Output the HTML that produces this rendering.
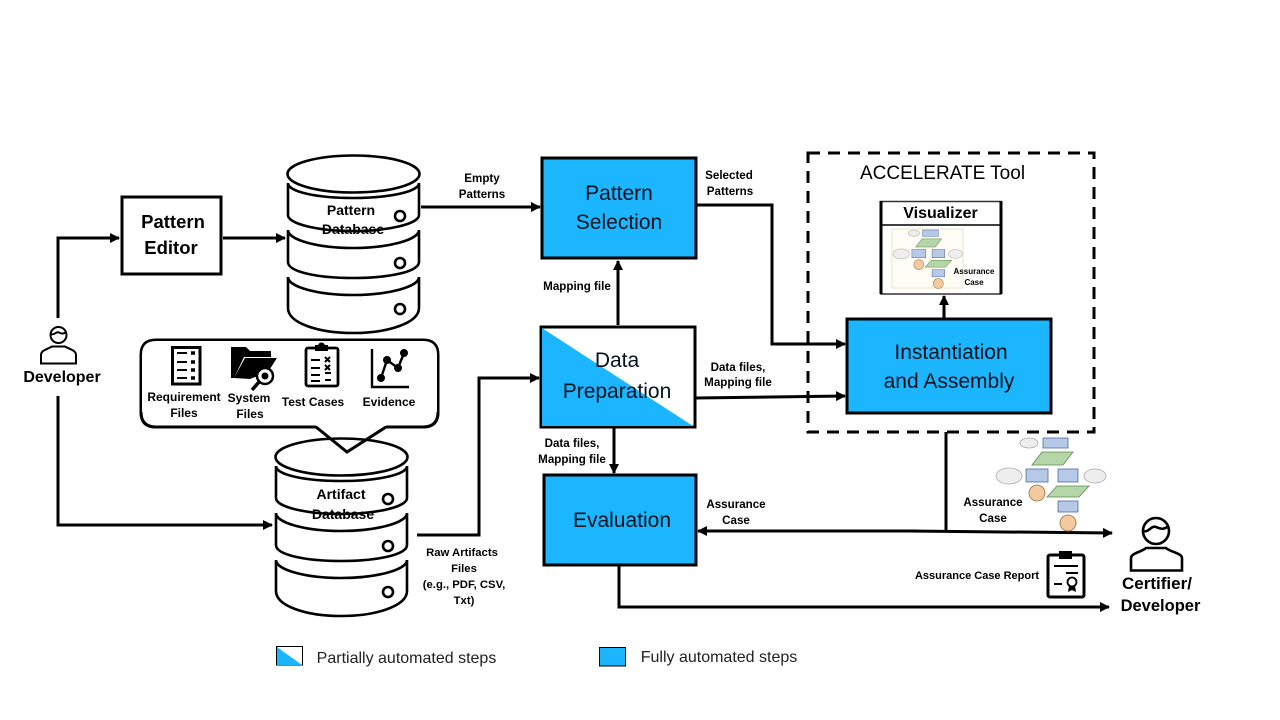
<!DOCTYPE html>
<html><head><meta charset="utf-8"><style>
html,body{margin:0;padding:0;background:#fff}
svg{display:block}
text{font-family:"Liberation Sans",sans-serif;fill:#000;text-anchor:middle}
.b{font-weight:bold;font-size:11.6px}
.m{font-size:21px;fill:#04121c}
.h{font-weight:bold;font-size:18.500px}
.l{fill:none;stroke:#000;stroke-width:3}
</style></head><body>
<svg width="1280" height="720" viewBox="0 0 1280 720" xmlns="http://www.w3.org/2000/svg">
<defs>
<marker id="a" markerUnits="userSpaceOnUse" markerWidth="10" markerHeight="10" refX="9" refY="5" orient="auto"><path d="M0 0L10 5L0 10z" fill="#000"/></marker>
<g id="cyl" fill="#fff" stroke="#000" stroke-width="2.6">
<path d="M288 277V308C288 323 318 333 353 333S419 323 419 308V277C419 287 388 295 353 295S288 287 288 277z"/>
<path d="M288 230V262C288 272 318 278 353 278S419 272 419 262V230C419 240 388 248 353 248S288 240 288 230z"/>
<path d="M288 183V215C288 224 318 231 353 231S419 224 419 215V183C419 192 388 198 353 198S288 192 288 183z"/>
<ellipse cx="353.500" cy="174" rx="66" ry="18.500"/>
<circle cx="400" cy="216" r="5"/><circle cx="400" cy="263" r="5"/><circle cx="400" cy="309" r="5"/>
</g>
<g id="mini" stroke-width=".8">
<ellipse cx="33" cy="5" rx="9" ry="5" fill="#eee" stroke="#aaa"/>
<rect x="47" y="0" width="25" height="10" fill="#b6c9e6" stroke="#4a6fa5"/>
<path d="M36 27L46 14H77L67 27z" fill="#b5d6a8" stroke="#5a8a50"/>
<ellipse cx="13" cy="38" rx="13" ry="8" fill="#eee" stroke="#aaa"/>
<rect x="30" y="31" width="22" height="13" fill="#b6c9e6" stroke="#4a6fa5"/>
<rect x="62" y="31" width="20" height="13" fill="#b6c9e6" stroke="#4a6fa5"/>
<ellipse cx="99" cy="38" rx="11" ry="7" fill="#eee" stroke="#aaa"/>
<circle cx="41" cy="55" r="8" fill="#f3c9a0" stroke="#a07040"/>
<path d="M51 59L61 48H93L83 59z" fill="#b5d6a8" stroke="#5a8a50"/>
<rect x="62" y="63" width="20" height="11" fill="#b6c9e6" stroke="#4a6fa5"/>
<circle cx="72" cy="85" r="8" fill="#f3c9a0" stroke="#a07040"/>
</g>
</defs>

<!-- cylinders -->
<use href="#cyl"/>
<text x="351" y="215" style="font-size:14px;font-weight:bold">Pattern</text>
<text x="353" y="234" style="font-size:14px;font-weight:bold">Database</text>
<use href="#cyl" x="-12" y="283"/>
<text x="341" y="499" style="font-size:14px;font-weight:bold">Artifact</text>
<text x="343" y="519" style="font-size:14px;font-weight:bold">Database</text>

<!-- bubble -->
<path d="M156 340H423Q438 340 438 355V412Q438 427 423 427H386L347 452L316 427H156Q141 427 141 412V355Q141 340 156 340z" fill="none" stroke="#000" stroke-width="3"/>
<path d="M156 341H423Q437 341 437 355V412Q437 426 423 426H156Q142 426 142 412V355Q142 341 156 341z" fill="#fff"/>
<path d="M141 412Q141 427 156 427H316M386 427H423Q438 427 438 412" fill="none" stroke="#000" stroke-width="3"/>

<!-- bubble icons -->
<g fill="none" stroke="#000" stroke-width="3">
<rect x="172.500" y="347.500" width="27.500" height="36.500"/>
<path d="M177 353H187M177 362H187M177 370H187M177 378H187" stroke-width="2"/>
<path d="M191 353h4M191 362h4M191 370h4M191 378h4" stroke-width="3.500"/>
</g>
<path d="M231 347H246L250 351H271V357H244L234 378H231z" fill="#000"/>
<path d="M234 378L245 358H277L268 372 250 379z" fill="#000"/>
<circle cx="265" cy="376" r="8" fill="#fff" stroke="#000" stroke-width="2.500"/>
<circle cx="265" cy="376" r="3.500" fill="#000"/>
<path d="M259 382L252 390" stroke="#000" stroke-width="3.500"/>
<g fill="none" stroke="#000" stroke-width="2.800">
<rect x="306" y="348" width="32" height="38" rx="2"/>
<path d="M311 360H320M311 368H320M311 375H320M311 381H320" stroke-width="2"/>
<path d="M325 357l5 5M330 357l-5 5M325 365l5 5M330 365l-5 5M325 373h6M325 380h6" stroke-width="2"/>
</g>
<rect x="315" y="345" width="13" height="6" fill="#000"/>
<circle cx="321.500" cy="346" r="3.500" fill="#000"/>
<g stroke="#000" fill="#000">
<path d="M372 349V387H409" fill="none" stroke-width="2.400"/>
<path d="M381 378L387 360L398 368L404 353" fill="none" stroke-width="2.400"/>
<circle cx="381" cy="378" r="3.500"/><circle cx="387" cy="360" r="3.500"/><circle cx="398" cy="368" r="3.500"/><circle cx="404" cy="353" r="3.500"/>
</g>
<text x="184" y="401" style="font-size:12px;font-weight:bold">Requirement</text>
<text x="184" y="417" style="font-size:12px;font-weight:bold">Files</text>
<text x="249" y="402" style="font-size:12px;font-weight:bold">System</text>
<text x="250" y="418" style="font-size:12px;font-weight:bold">Files</text>
<text x="313" y="406" style="font-size:12px;font-weight:bold">Test Cases</text>
<text x="389" y="406" style="font-size:12px;font-weight:bold">Evidence</text>

<!-- connectors -->
<path class="l" d="M58 318V238H119" marker-end="url(#a)"/>
<path class="l" d="M223 238H285" marker-end="url(#a)"/>
<path class="l" d="M58 396V525H272" marker-end="url(#a)"/>
<path class="l" d="M421 207H540" marker-end="url(#a)"/>
<path class="l" d="M417 535H479V378H539" marker-end="url(#a)"/>
<path class="l" d="M618 325V261" marker-end="url(#a)"/>
<path class="l" d="M697 205H772V344H845" marker-end="url(#a)"/>
<path class="l" d="M696 398L845 396" marker-end="url(#a)"/>
<path class="l" d="M614 428V473" marker-end="url(#a)"/>
<path class="l" d="M944 318V296" marker-end="url(#a)"/>
<path class="l" d="M946 432V531"/>
<path class="l" d="M908 531L1112 533" marker-end="url(#a)"/>
<path class="l" d="M917 531L698 531" marker-end="url(#a)"/>
<path class="l" d="M619 566V607H1109" marker-end="url(#a)"/>

<!-- dashed container -->
<rect x="808" y="153" width="286" height="279" fill="none" stroke="#000" stroke-width="3" stroke-dasharray="12 8"/>
<text x="942.500" y="179" style="font-size:19px">ACCELERATE Tool</text>

<!-- boxes -->
<rect x="122" y="197" width="99" height="77" fill="#fff" stroke="#000" stroke-width="3"/>
<text x="173" y="228" class="h">Pattern</text>
<text x="171" y="254" class="h">Editor</text>
<rect x="542" y="158" width="154" height="100" fill="#1cb5ff" stroke="#000" stroke-width="3"/>
<text x="619" y="200" class="m">Pattern</text>
<text x="619" y="229" class="m">Selection</text>
<rect x="541" y="327" width="154" height="100" fill="#fff" stroke="#000" stroke-width="3"/>
<path d="M542 328L693 426H542z" fill="#1cb5ff"/>
<text x="617" y="367" class="m">Data</text>
<text x="617" y="398" class="m">Preparation</text>
<rect x="544" y="475" width="152" height="90" fill="#1cb5ff" stroke="#000" stroke-width="3"/>
<text x="622" y="527" class="m">Evaluation</text>
<rect x="847" y="319" width="204" height="94" fill="#1cb5ff" stroke="#000" stroke-width="3"/>
<text x="951" y="359" class="m">Instantiation</text>
<text x="949" y="388" class="m">and Assembly</text>

<!-- visualizer -->
<rect x="881" y="201.500" width="120" height="92.500" fill="#fff" stroke="#333" stroke-width="1.500"/>
<path d="M881 201V294M1001 201V294" stroke="#000" stroke-width="3"/>
<path d="M881 225H1001" stroke="#000" stroke-width="1.500"/>
<text x="940.500" y="218" style="font-size:16px;font-weight:bold">Visualizer</text>
<rect x="892" y="229" width="71" height="59" fill="#fffdf6" stroke="#eee3c8"/>
<g transform="translate(893 230) scale(.63)"><use href="#mini"/></g>
<text x="974" y="274" style="font-size:8px;font-weight:bold">Assurance</text>
<text x="974" y="285" style="font-size:8px;font-weight:bold">Case</text>

<!-- mini diagram right -->
<use href="#mini" x="996" y="438"/>

<!-- labels -->
<text x="482" y="182" class="b">Empty</text>
<text x="482" y="198" class="b">Patterns</text>
<text x="729" y="179" class="b">Selected</text>
<text x="730" y="195" class="b">Patterns</text>
<text x="577" y="290" class="b">Mapping file</text>
<text x="738" y="371" class="b">Data files,</text>
<text x="738" y="386" class="b">Mapping file</text>
<text x="572" y="447" class="b">Data files,</text>
<text x="572" y="463" class="b">Mapping file</text>
<text x="736" y="508" class="b">Assurance</text>
<text x="736" y="524" class="b">Case</text>
<text x="993" y="506" class="b">Assurance</text>
<text x="993" y="522" class="b">Case</text>
<text x="462" y="556" class="b" style="font-size:11.3px">Raw Artifacts</text>
<text x="464" y="572" class="b" style="font-size:11.3px">Files</text>
<text x="464" y="588" class="b" style="font-size:11.3px">(e.g., PDF, CSV,</text>
<text x="464" y="604" class="b" style="font-size:11.3px">Txt)</text>
<text x="977" y="579" class="b" style="font-size:11px">Assurance Case Report</text>

<!-- people -->
<g fill="none" stroke="#000" stroke-width="2">
<circle cx="58.500" cy="335" r="8"/>
<path d="M50.500 334C54 336 56 331 59 332.500S63 334 66.500 332"/>
<path d="M41 363.500V355C41 350 48 349 52 346.500H65C69 349 76 350 76 355V363.500z"/>
</g>
<text x="62" y="382" style="font-size:16px;font-weight:bold">Developer</text>
<g fill="none" stroke="#000" stroke-width="2.600">
<circle cx="1156" cy="531" r="13"/>
<path d="M1143 531C1149 533 1151 525 1156 527S1163 530 1169 526"/>
<path d="M1131 570.500V558C1131 553 1142 552 1146 548H1166C1170 552 1182 553 1182 558V570.500z"/>
</g>
<text x="1157" y="589" style="font-size:17px;font-weight:bold">Certifier/</text>
<text x="1160.500" y="611" style="font-size:16.500px;font-weight:bold">Developer</text>

<!-- report icon -->
<rect x="1048" y="555" width="36" height="42" rx="2" fill="#fff" stroke="#000" stroke-width="3"/>
<rect x="1059" y="551" width="13" height="8" fill="#000"/>
<path d="M1054 566H1078M1066 573H1078M1054 584H1062" stroke="#000" stroke-width="2"/>
<circle cx="1072" cy="582" r="4.500" fill="none" stroke="#000" stroke-width="1.800"/>
<path d="M1069 586l-1 6 4-2 4 2-1-6" fill="#000"/>

<!-- legend -->
<rect x="276.500" y="646.500" width="26" height="18.500" fill="#fff" stroke="#000"/>
<path d="M277 647L302 665H277z" fill="#1cb5ff"/>
<text x="406.500" y="663" style="font-size:16px;fill:#222">Partially automated steps</text>
<rect x="599.500" y="647.500" width="26" height="18.500" fill="#1cb5ff" stroke="#000"/>
<text x="719" y="662" style="font-size:16px;fill:#222">Fully automated steps</text>
</svg>
</body></html>
